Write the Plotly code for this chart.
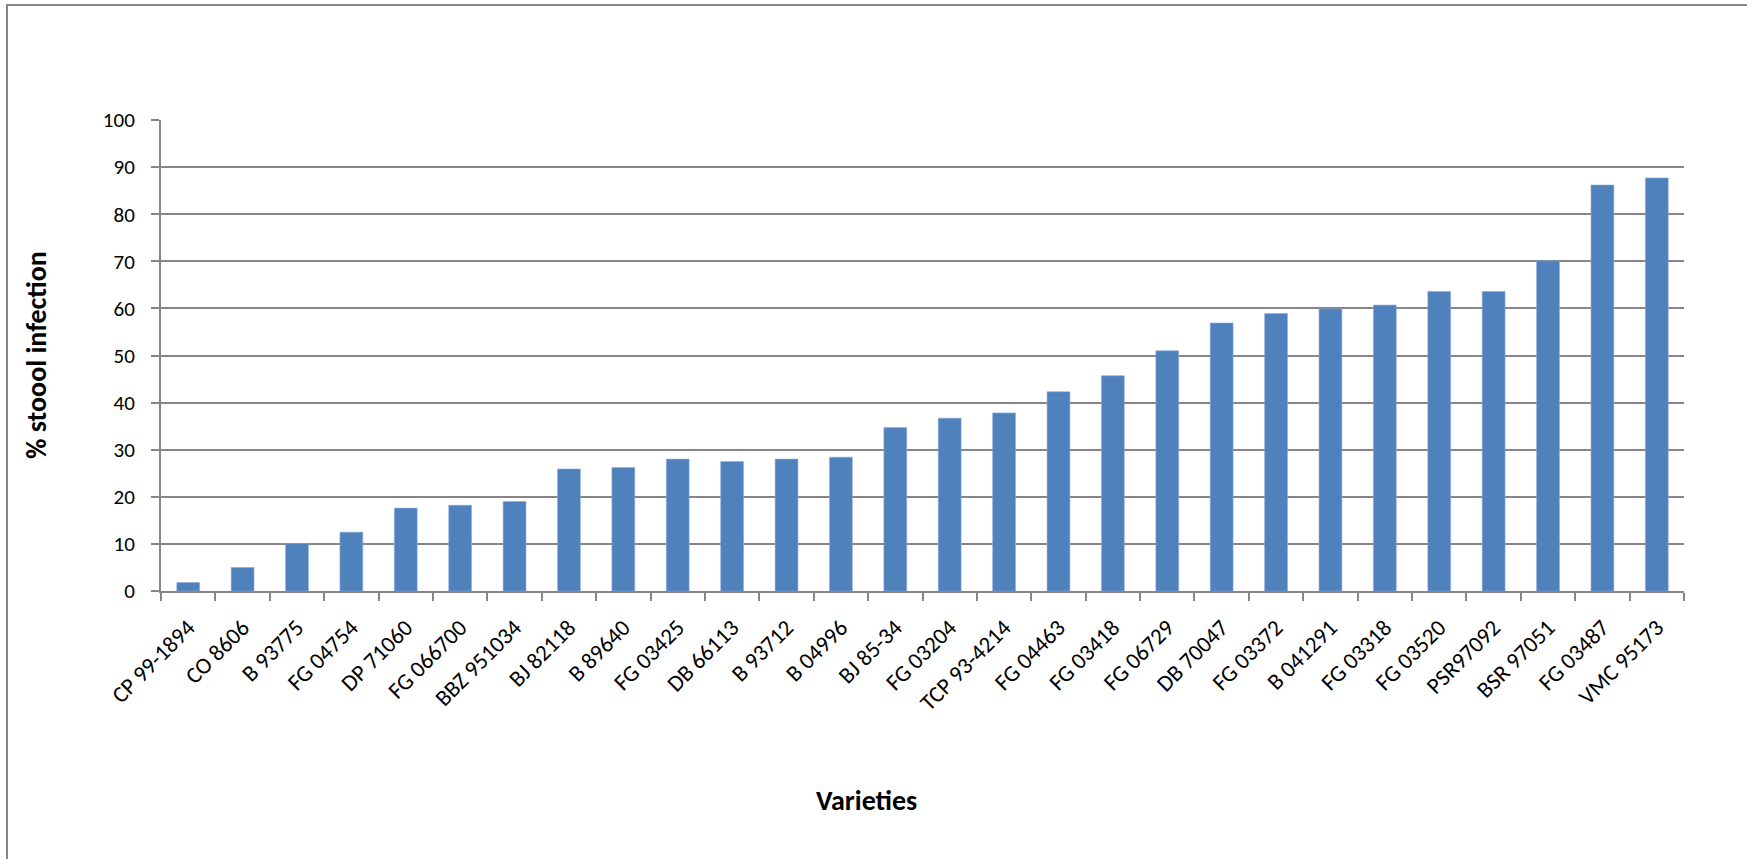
import plotly.graph_objects as go

# Sugarcane varieties and their stool infection percentages
varieties = [
    "CP 99-1894", "CO 8606", "B 93775", "FG 04754", "DP 71060", "FG 066700",
    "BBZ 951034", "BJ 82118", "B 89640", "FG 03425", "DB 66113", "B 93712",
    "B 04996", "BJ 85-34", "FG 03204", "TCP 93-4214", "FG 04463", "FG 03418",
    "FG 06729", "DB 70047", "FG 03372", "B 041291", "FG 03318", "FG 03520",
    "PSR97092", "BSR 97051", "FG 03487", "VMC 95173",
]
infection_pct = [
    1.8, 5.0, 10.1, 12.5, 17.6, 18.2,
    19.0, 25.9, 26.2, 28.0, 27.5, 28.0,
    28.4, 34.7, 36.7, 37.8, 42.3, 45.7,
    51.0, 56.9, 58.9, 59.9, 60.7, 63.6,
    63.6, 70.1, 86.2, 87.7,
]
y_ticks = list(range(0, 101, 10))

W, H = 1747, 859
L, R, T, B = 161, 63, 120, 268
pw, ph = W - L - R, H - T - B


def px_x(x):
    return (x - L) / pw


def px_y(y):
    return (H - B - y) / ph


FONT = "Carlito, Calibri, Lato, sans-serif"
GRID = "#868686"

fig = go.Figure(
    go.Bar(
        x=varieties,
        y=infection_pct,
        marker=dict(color="#4F81BD", line=dict(color="#8EAADB", width=0.6)),
        hoverinfo="x+y",
    )
)

fig.update_layout(
    width=W,
    height=H,
    margin=dict(l=L, r=R, t=T, b=B),
    paper_bgcolor="white",
    plot_bgcolor="white",
    showlegend=False,
    bargap=0.58,
    font=dict(family=FONT, size=21, color="black"),
    xaxis=dict(
        type="category",
        tickangle=-45,
        ticks="outside",
        tickson="boundaries",
        ticklen=8,
        tickcolor=GRID,
        tickwidth=1.5,
        showline=True,
        linecolor=GRID,
        linewidth=2,
        showgrid=False,
        ticklabelstandoff=12,
        tickfont=dict(family=FONT, size=23, color="black"),
    ),
    yaxis=dict(
        range=[0, 100],
        tickvals=y_ticks,
        ticks="outside",
        ticklen=8,
        tickcolor=GRID,
        tickwidth=1.5,
        showline=True,
        linecolor=GRID,
        linewidth=2,
        showgrid=True,
        gridcolor=GRID,
        gridwidth=1.5,
        zeroline=False,
        ticklabelstandoff=12,
        tickfont=dict(family=FONT, size=21, color="black"),
    ),
    shapes=[
        # chart-area border
        dict(
            type="rect", xref="paper", yref="paper",
            x0=px_x(7), x1=px_x(1775), y0=px_y(880), y1=px_y(5),
            line=dict(color=GRID, width=2), fillcolor="rgba(0,0,0,0)",
            layer="below",
        ),
    ],
    annotations=[
        dict(
            text="<b>Varieties</b>", xref="paper", yref="paper",
            x=px_x(866), y=px_y(800), xanchor="center", yanchor="middle",
            showarrow=False, font=dict(family=FONT, size=28, color="black"),
        ),
        dict(
            text="<b>% stoool infection</b>", xref="paper", yref="paper",
            x=px_x(36), y=px_y(355), xanchor="center", yanchor="middle",
            textangle=-90, showarrow=False,
            font=dict(family=FONT, size=28, color="black"),
        ),
    ],
)

fig.write_html("out.html")
